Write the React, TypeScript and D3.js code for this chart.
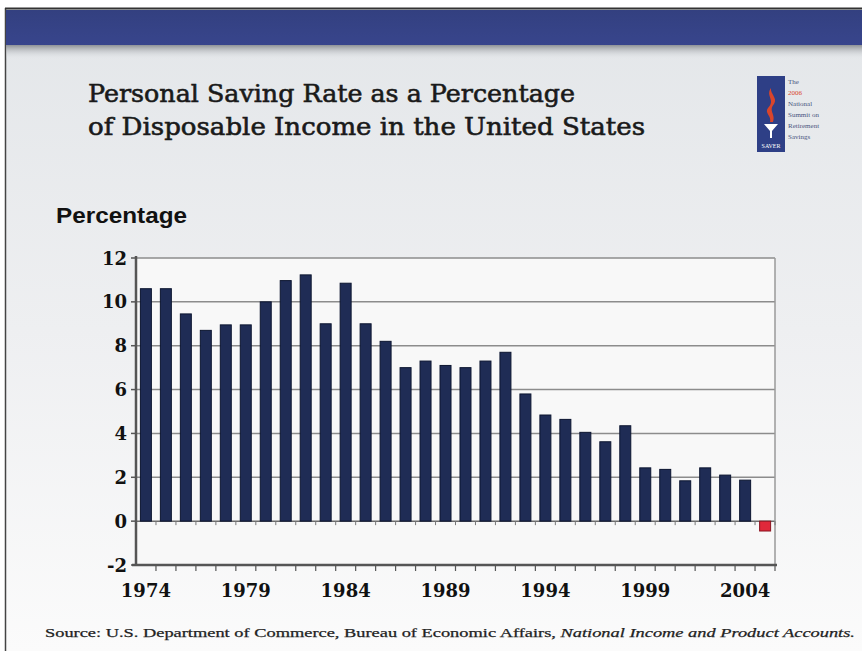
import React from "react";
import * as d3 from "d3";

const years: number[] = d3.range(1974, 2006);
const savingRate: number[] = [
  10.6, 10.6, 9.45, 8.7, 8.95, 8.95, 10.0, 10.97, 11.23, 9.0, 10.85, 9.0,
  8.2, 7.0, 7.3, 7.1, 7.0, 7.3, 7.7, 5.8, 4.84, 4.64, 4.05, 3.62, 4.35,
  2.43, 2.36, 1.84, 2.43, 2.1, 1.87, -0.45,
];
const yTicks: number[] = [-2, 0, 2, 4, 6, 8, 10, 12];
const xLabelYears: number[] = [1974, 1979, 1984, 1989, 1994, 1999, 2004];
const titleLines: string[] = [
  "Personal Saving Rate as a Percentage",
  "of Disposable Income in the United States",
];
const titleWidths: number[] = [487, 557];

const W = 862;
const H = 651;
const plot = { left: 136, right: 775, top: 258, bottom: 565 };

export default function App() {
  const x = d3
    .scaleBand<number>()
    .domain(years)
    .range([plot.left, plot.right])
    .paddingInner(0.45)
    .paddingOuter(0.22);
  const slot = d3.scaleBand<number>().domain(years).range([plot.left, plot.right]);
  const y = d3.scaleLinear().domain([-2, 12]).range([plot.bottom, plot.top]);
  const serif = "'DejaVu Serif', 'Liberation Serif', serif";
  const times = "'Liberation Serif', 'DejaVu Serif', serif";
  const sans = "'Liberation Sans', Arial, sans-serif";

  return (
    <div style={{ position: "absolute", left: 0, top: 0 }}>
      <svg width={W} height={H} style={{ display: "block" }}>
        <defs>
          <linearGradient id="bg" x1="0" y1="0" x2="0" y2="1">
            <stop offset="0" stopColor="#e3e6e9" />
            <stop offset="0.5" stopColor="#eeeff1" />
            <stop offset="1" stopColor="#fbfbfb" />
          </linearGradient>
          <linearGradient id="shadow" x1="0" y1="0" x2="0" y2="1">
            <stop offset="0" stopColor="#8e9296" />
            <stop offset="1" stopColor="#e3e6e9" stopOpacity="0" />
          </linearGradient>
          <linearGradient id="hdr" x1="0" y1="0" x2="0" y2="1">
            <stop offset="0" stopColor="#334080" />
            <stop offset="1" stopColor="#38458c" />
          </linearGradient>
        </defs>
        <rect x={0} y={0} width={W} height={H} fill="#ffffff" />
        <rect x={5} y={8} width={W - 5} height={H - 8} fill="url(#bg)" />
        <line x1={5.5} y1={8} x2={5.5} y2={H} stroke="#444" strokeWidth={1.5} />
        <line x1={5} y1={8.5} x2={W} y2={8.5} stroke="#333" strokeWidth={2} />
        <rect x={6} y={10} width={W - 6} height={35} fill="url(#hdr)" />
        <rect x={6} y={45} width={W - 6} height={14} fill="url(#shadow)" />

        {titleLines.map((t, i) => (
          <text
            key={i}
            x={88}
            y={102 + i * 33}
            fontFamily={serif}
            fontSize={25}
            fill="#1a1a1a"
            stroke="#1a1a1a"
            strokeWidth={0.6}
            textLength={titleWidths[i]}
            lengthAdjust="spacingAndGlyphs"
          >
            {t}
          </text>
        ))}

        {/* logo */}
        <g>
          <rect x={757} y={76} width={28} height={76} fill="#2e3f86" />
          <path
            d="M771,88 C765,96 776,100 768,108 C764,113 772,116 770,122 L773,122 C776,114 768,111 774,104 C778,98 770,94 771,88 Z"
            fill="#d9452b"
          />
          <path d="M764,124 L778,124 L772,131 L772,138 L770,138 L770,131 Z" fill="#ffffff" />
          <text x={771} y={148} fontSize={6} fill="#fff" textAnchor="middle" fontFamily={times}>
            SAVER
          </text>
          {["The", "2006", "National", "Summit on", "Retirement", "Savings"].map((t, i) => (
            <text
              key={t}
              x={788}
              y={84 + i * 11}
              fontSize={7}
              fontFamily={times}
              fill={i === 1 ? "#d9452b" : "#4a5580"}
            >
              {t}
            </text>
          ))}
        </g>

        <text
          x={56}
          y={223}
          fontFamily={sans}
          fontWeight="bold"
          fontSize={22}
          fill="#111"
          textLength={131}
          lengthAdjust="spacingAndGlyphs"
        >
          Percentage
        </text>

        {/* plot background */}
        <rect
          x={plot.left}
          y={plot.top}
          width={plot.right - plot.left}
          height={plot.bottom - plot.top}
          fill="#f8f8f8"
        />
        {yTicks
          .filter((t) => t > -2)
          .map((t) => (
            <line
              key={t}
              x1={plot.left}
              x2={plot.right}
              y1={y(t)}
              y2={y(t)}
              stroke={t === 0 ? "#6e6e6e" : "#8c8c8c"}
              strokeWidth={1.5}
            />
          ))}
        <line x1={plot.right} x2={plot.right} y1={plot.top} y2={plot.bottom} stroke="#9a9a9a" strokeWidth={1.5} />

        {/* bars */}
        {years.map((yr, i) => {
          const v = savingRate[i];
          const y0 = y(Math.max(0, v));
          const h = Math.abs(y(v) - y(0));
          const neg = v < 0;
          return (
            <rect
              key={yr}
              x={x(yr)}
              y={y0}
              width={x.bandwidth()}
              height={h}
              fill={neg ? "#e0283a" : "#1f2c55"}
              stroke={neg ? "#8a1420" : "#0c1530"}
              strokeWidth={1}
            />
          );
        })}

        {/* ticks at zero line */}
        {years.map((yr) => (
          <line
            key={"z" + yr}
            x1={(slot(yr) as number) + slot.bandwidth()}
            x2={(slot(yr) as number) + slot.bandwidth()}
            y1={y(0)}
            y2={y(0) + 4}
            stroke="#777"
            strokeWidth={1}
          />
        ))}

        {/* axes */}
        <line x1={plot.left} x2={plot.left} y1={plot.top - 2} y2={plot.bottom} stroke="#555" strokeWidth={2.5} />
        <line x1={plot.left - 4} x2={plot.right + 2} y1={plot.bottom} y2={plot.bottom} stroke="#555" strokeWidth={2.5} />
        {years.map((yr) => (
          <line
            key={"b" + yr}
            x1={(slot(yr) as number) + slot.bandwidth()}
            x2={(slot(yr) as number) + slot.bandwidth()}
            y1={plot.bottom}
            y2={plot.bottom + 6}
            stroke="#555"
            strokeWidth={1.2}
          />
        ))}
        {yTicks.map((t) => (
          <g key={"yt" + t}>
            <line x1={plot.left - 5} x2={plot.left} y1={y(t)} y2={y(t)} stroke="#555" strokeWidth={1.5} />
            <text
              x={plot.left - 9}
              y={y(t) + 6.5}
              textAnchor="end"
              fontFamily={serif}
              fontWeight="bold"
              fontSize={18}
              fill="#111"
            >
              {t}
            </text>
          </g>
        ))}
        {xLabelYears.map((yr) => (
          <text
            key={"xl" + yr}
            x={(x(yr) as number) + x.bandwidth() / 2}
            y={597}
            textAnchor="middle"
            fontFamily={serif}
            fontWeight="bold"
            fontSize={18}
            fill="#111"
          >
            {yr}
          </text>
        ))}

        <text
          x={45}
          y={637}
          fontFamily={times}
          fontSize={13}
          fill="#222"
          stroke="#222"
          strokeWidth={0.25}
          textLength={810}
          lengthAdjust="spacingAndGlyphs"
        >
          Source: U.S. Department of Commerce, Bureau of Economic Affairs,{" "}
          <tspan fontStyle="italic">National Income and Product Accounts.</tspan>
        </text>
      </svg>
    </div>
  );
}
